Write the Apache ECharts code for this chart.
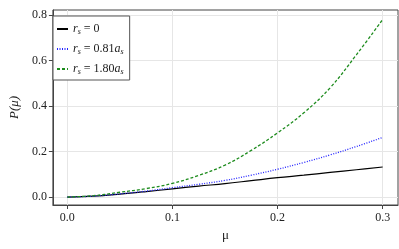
<!DOCTYPE html>
<html><head><meta charset="utf-8">
<script src="https://cdn.jsdelivr.net/npm/echarts@6/dist/echarts.min.js"></script>
<style>html,body{margin:0;padding:0;background:#fff}#c{width:399px;height:249px}</style>
</head><body><div id="c"></div>
<script>
const mu = [0, 0.025, 0.05, 0.075, 0.1, 0.125, 0.15, 0.175, 0.2, 0.225, 0.25, 0.275, 0.3];
const pRs0 = [0, 0.004, 0.013, 0.024, 0.036, 0.048, 0.059, 0.072, 0.085, 0.096, 0.108, 0.120, 0.132];
const pRs081 = [0, 0.004, 0.014, 0.026, 0.041, 0.056, 0.073, 0.096, 0.122, 0.152, 0.185, 0.222, 0.262];
const pRs180 = [0, 0.006, 0.021, 0.037, 0.060, 0.095, 0.140, 0.205, 0.282, 0.370, 0.480, 0.625, 0.780];
const xTicks = [0.0, 0.1, 0.2, 0.3];
const yTicks = [0.0, 0.2, 0.4, 0.6, 0.8];
const seriesNames = ['rs0', 'rs081', 'rs180'];
const legendLabels = {
  rs0: '{i|r}{s|s}{n| = 0}',
  rs081: '{i|r}{s|s}{n| = 0.81}{i|a}{s|s}',
  rs180: '{i|r}{s|s}{n| = 1.80}{i|a}{s|s}'
};
const FONT = 'Liberation Serif';
const pair = (ys) => mu.map((x, i) => [x, ys[i]]);
const chart = echarts.init(document.getElementById('c'), null, {renderer: 'canvas'});
const gridColor = '#e6e6e6';
chart.setOption({
  animation: false,
  backgroundColor: '#fff',
  grid: {left: 46, right: 1, top: 10, bottom: 44, show: true, borderColor: '#444', borderWidth: 1, backgroundColor: 'transparent'},
  xAxis: {
    type: 'value', min: -0.0137, max: 0.3146,
    name: 'μ', nameLocation: 'middle', nameGap: 23,
    nameTextStyle: {fontFamily: FONT, fontSize: 13, color: '#222'},
    axisLine: {show: true, onZero: false, lineStyle: {color: '#444', width: 1}},
    axisTick: {show: true, length: 4, customValues: xTicks, lineStyle: {color: '#444'}},
    axisLabel: {customValues: xTicks, formatter: v => v.toFixed(1), fontFamily: FONT, fontSize: 12, color: '#222', margin: 7},
    splitLine: {show: true, lineStyle: {color: gridColor, width: 1}}
  },
  yAxis: {
    type: 'value', min: -0.035, max: 0.822,
    name: 'P(μ)', nameLocation: 'middle', nameGap: 31,
    nameTextStyle: {fontFamily: FONT, fontSize: 13, color: '#222', fontStyle: 'italic'},
    axisLine: {show: true, onZero: false, lineStyle: {color: '#444', width: 1}},
    axisTick: {show: true, length: 4, customValues: yTicks, lineStyle: {color: '#444'}},
    axisLabel: {customValues: yTicks, formatter: v => v.toFixed(1), fontFamily: FONT, fontSize: 12, color: '#222', margin: 6},
    splitLine: {show: true, lineStyle: {color: gridColor, width: 1}}
  },
  legend: {
    left: 53, top: 16, orient: 'vertical',
    backgroundColor: '#fff', borderColor: '#555', borderWidth: 1,
    padding: [7, 6, 4, 3], itemGap: 7, itemWidth: 11, itemHeight: 12,
    itemStyle: {opacity: 0},
    data: seriesNames,
    formatter: n => legendLabels[n],
    textStyle: {
      fontFamily: FONT, fontSize: 12, color: '#222',
      rich: {
        i: {fontFamily: FONT, fontStyle: 'italic', fontSize: 12, color: '#222'},
        s: {fontFamily: FONT, fontStyle: 'italic', fontSize: 8, color: '#222', verticalAlign: 'bottom', padding: [6, 0, 0, 0]},
        n: {fontFamily: FONT, fontSize: 12, color: '#222'}
      }
    }
  },
  series: [
    {name: 'rs0', type: 'line', data: pair(pRs0), smooth: 0.4, symbol: 'none',
     lineStyle: {color: '#000', width: 1.2}, itemStyle: {color: '#000'}},
    {name: 'rs081', type: 'line', data: pair(pRs081), smooth: 0.4, symbol: 'none',
     lineStyle: {color: '#2222ff', width: 1.3, type: [1, 1.5]}, itemStyle: {color: '#2222ff'}},
    {name: 'rs180', type: 'line', data: pair(pRs180), smooth: 0.4, symbol: 'none',
     lineStyle: {color: '#1e8c1e', width: 1.3, type: [3, 2]}, itemStyle: {color: '#1e8c1e'}}
  ]
});
</script></body></html>
